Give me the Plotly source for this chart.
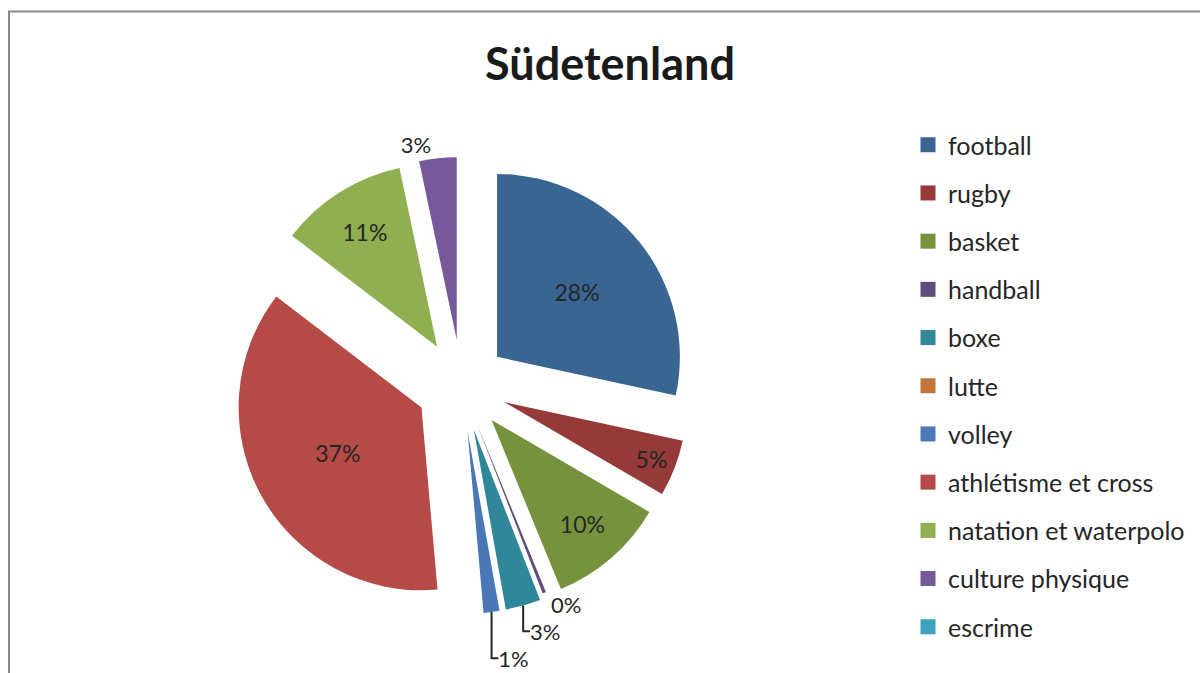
import plotly.graph_objects as go

# ---- data ----
categories = ["football", "rugby", "basket", "handball", "boxe", "lutte", "volley",
              "athlétisme et cross", "natation et waterpolo", "culture physique", "escrime"]
shares = [28.4, 5.0, 10.4, 0.3, 3.1, 0.0, 1.4, 36.8, 11.3, 3.3, 0.0]
colors = ["#386592", "#953A39", "#76923C", "#5F4B7D", "#31879A", "#C4733A",
          "#4A78B6", "#B54A47", "#8FAF50", "#76599A", "#3CA3BF"]
title_text = "Südetenland"

FONT = "Lato"
TXT = "#262626"

# exploded slices (the hairline slice slightly less so its label stack fits)
pulls = [0.22 if v < 1 else 0.25 for v in shares]

fig = go.Figure()

fig.add_trace(go.Pie(
    labels=categories,
    values=shares,
    marker=dict(colors=colors, line=dict(width=0)),
    sort=False,
    direction="clockwise",
    rotation=0,
    pull=pulls,
    texttemplate=["%{percent:.0%}" if v > 0 else "" for v in shares],
    textposition="auto",
    insidetextorientation="horizontal",
    textfont=dict(family=FONT, size=23, color=TXT),
    outsidetextfont=dict(family=FONT, size=22, color=TXT),
    domain=dict(x=[233 / 1200, 690 / 1200], y=[59 / 673, 516 / 673]),
    showlegend=False,
    hoverinfo="label+percent",
))

# legend entries (one group each so the gap can match the reference spacing)
for name, col in zip(categories, colors):
    fig.add_trace(go.Scatter(
        x=[None], y=[None], mode="markers",
        marker=dict(symbol="square", size=15, color=col),
        name=name, legendgroup=name, showlegend=True, hoverinfo="skip",
    ))

fig.update_layout(
    width=1200, height=673,
    margin=dict(l=0, r=0, t=0, b=0, autoexpand=False),
    paper_bgcolor="white", plot_bgcolor="white",
    title=dict(text=title_text, x=610 / 1200, xanchor="center",
               y=1 - 64 / 673, yanchor="middle", yref="container",
               font=dict(family=FONT, size=45, color="#1a1a1a", weight="bold")),
    xaxis=dict(visible=False), yaxis=dict(visible=False),
    legend=dict(x=908 / 1200, xanchor="left", y=1 - 122 / 673, yanchor="top",
                font=dict(family=FONT, size=25, color=TXT),
                tracegroupgap=12.7, itemsizing="trace",
                bgcolor="rgba(0,0,0,0)"),
    shapes=[dict(type="rect", xref="paper", yref="paper",
                 x0=9 / 1200, x1=1.05, y0=-0.05, y1=1 - 11.5 / 673,
                 line=dict(color="#888888", width=2), fillcolor="rgba(0,0,0,0)")],
)

fig.write_html("out.html", config={"displayModeBar": False},
               post_script="document.body.style.margin='0';")
